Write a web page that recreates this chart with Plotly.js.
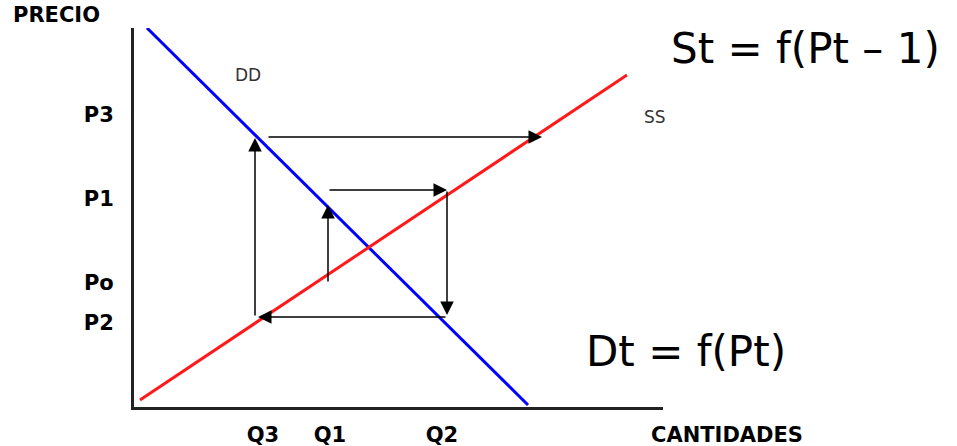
<!DOCTYPE html>
<html>
<head>
<meta charset="utf-8">
<script src="https://cdn.plot.ly/plotly-3.0.1.min.js"></script>
<style>html,body{margin:0;padding:0;background:#fff;}#chart{width:957px;height:446px;}</style>
</head>
<body>
<div id="chart"></div>
<script>
// Price / quantity tick labels
const priceLabels = ['P3', 'P1', 'Po', 'P2'];
const priceTickVals = [292, 208, 124, 84];
const qtyLabels = ['Q3', 'Q1', 'Q2'];
const qtyTickVals = [129, 196, 308];

// Demand (DD) and supply (SS) lines
const demandX = [13, 394];
const demandY = [379, 2];
const supplyX = [6, 493];
const supplyY = [7, 332];

// Cobweb arrows: tail -> head
const arrowTailX = [194, 194, 313, 313, 121, 133];
const arrowTailY = [124, 217, 217, 90, 90, 270];
const arrowHeadX = [194, 313, 313, 124, 121, 408];
const arrowHeadY = [202, 217, 92, 90, 269, 270];

const traces = [
  {x: demandX, y: demandY, mode: 'lines', line: {color: '#0000ff', width: 3}, hoverinfo: 'skip'},
  {x: supplyX, y: supplyY, mode: 'lines', line: {color: '#ff1a1a', width: 3}, hoverinfo: 'skip'}
];

const annotations = [];
for (let i = 0; i < arrowTailX.length; i++) {
  annotations.push({
    x: arrowHeadX[i], y: arrowHeadY[i], ax: arrowTailX[i], ay: arrowTailY[i],
    xref: 'x', yref: 'y', axref: 'x', ayref: 'y',
    showarrow: true, arrowhead: 2, arrowsize: 1.8, arrowwidth: 1.5,
    arrowcolor: '#000', standoff: 0, startstandoff: 0, text: ''
  });
}
const boldFont = {family: 'DejaVu Sans', size: 21, color: '#000', weight: 'bold'};
annotations.push(
  {text: '<b>PRECIO</b>', xref: 'paper', yref: 'paper', x: -0.146, y: 1.035, showarrow: false, font: boldFont, xanchor: 'center', yanchor: 'middle'},
  {text: '<b>CANTIDADES</b>', xref: 'paper', yref: 'paper', x: 1.121, y: -0.074, showarrow: false, font: boldFont, xanchor: 'center', yanchor: 'middle'},
  {text: 'DD', xref: 'x', yref: 'y', x: 114, y: 332, showarrow: false, font: {family: 'DejaVu Sans', size: 17, color: '#333'}},
  {text: 'SS', xref: 'x', yref: 'y', x: 521, y: 290, showarrow: false, font: {family: 'DejaVu Sans', size: 17, color: '#333'}},
  {text: 'St = f(Pt – 1)', xref: 'paper', yref: 'paper', x: 1.270, y: 0.947, showarrow: false, font: {family: 'DejaVu Sans', size: 42, color: '#000'}, xanchor: 'center', yanchor: 'middle'},
  {text: 'Dt = f(Pt)', xref: 'paper', yref: 'paper', x: 1.043, y: 0.146, showarrow: false, font: {family: 'DejaVu Sans', size: 42, color: '#000'}, xanchor: 'center', yanchor: 'middle'}
);

const layout = {
  width: 957, height: 446,
  margin: {l: 134, r: 294, t: 28, b: 39, pad: 0},
  paper_bgcolor: '#fff', plot_bgcolor: '#fff',
  showlegend: false,
  xaxis: {
    range: [0, 529], showgrid: false, zeroline: false,
    showline: true, linewidth: 3, linecolor: '#222',
    tickmode: 'array', tickvals: qtyTickVals, ticktext: qtyLabels,
    ticks: '', ticklabelstandoff: 7,
    tickfont: boldFont, fixedrange: true
  },
  yaxis: {
    range: [0, 379], showgrid: false, zeroline: false,
    showline: true, linewidth: 3, linecolor: '#222',
    tickmode: 'array', tickvals: priceTickVals, ticktext: priceLabels,
    ticks: '', ticklabelstandoff: 13,
    tickfont: boldFont, fixedrange: true
  },
  annotations: annotations
};

Plotly.newPlot('chart', traces, layout, {staticPlot: true, displayModeBar: false});
</script>
</body>
</html>
